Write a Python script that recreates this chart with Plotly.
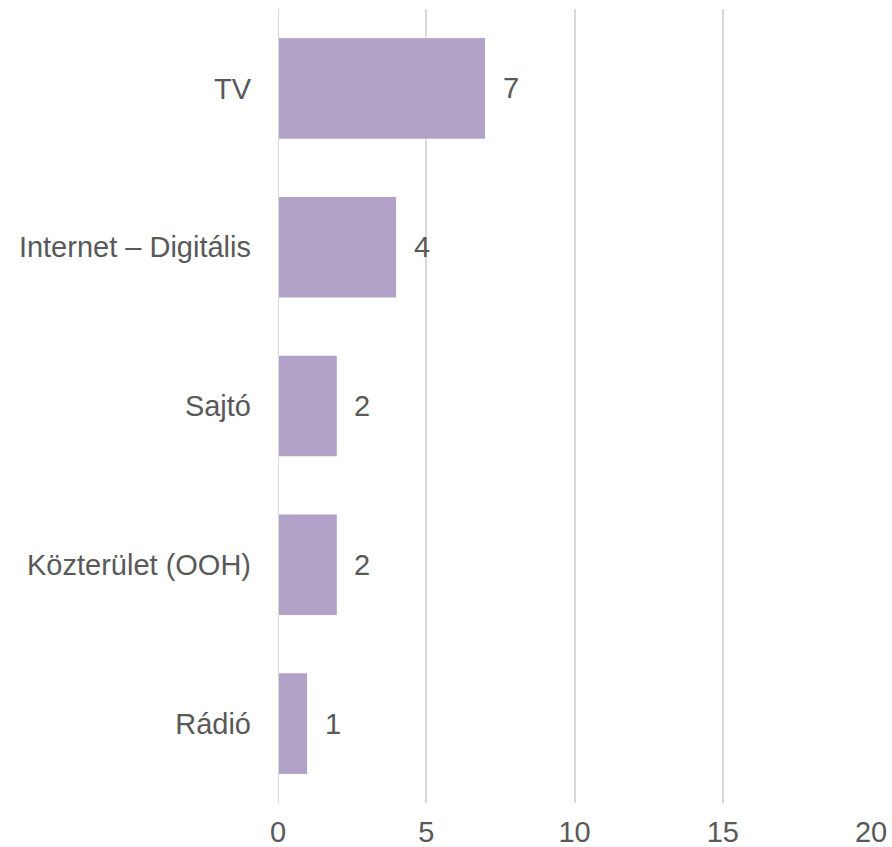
import plotly.graph_objects as go

categories = ["TV", "Internet – Digitális", "Sajtó", "Közterület (OOH)", "Rádió"]
values = [7, 4, 2, 2, 1]
x_ticks = [0, 5, 10, 15, 20]

FONT = "Liberation Sans, Arial, sans-serif"
SIZE = 29

fig = go.Figure()
fig.add_trace(go.Bar(
    y=categories, x=values, orientation="h",
    marker=dict(color="#b3a2c7", line=dict(color="white", width=1)),
    width=0.64, hoverinfo="skip",
))

for c, v in zip(categories, values):
    fig.add_annotation(x=v, y=c, text=str(v), showarrow=False, xanchor="left",
                       xshift=15, font=dict(size=SIZE, color="#595959", family=FONT))

fig.add_shape(type="line", xref="x", yref="paper", x0=0, x1=0, y0=0, y1=1,
              line=dict(color="#d9d9d9", width=2), layer="above")

fig.update_layout(
    width=892, height=847,
    margin=dict(l=278, r=21, t=9, b=44),
    paper_bgcolor="white", plot_bgcolor="white",
    showlegend=False,
    font=dict(family=FONT, size=SIZE, color="#595959"),
    xaxis=dict(range=[0, 20], tickvals=x_ticks, showgrid=True, gridcolor="#d9d9d9",
               gridwidth=2, zeroline=False, showline=False, ticks="",
               ticklabelstandoff=9, fixedrange=True, automargin=False,
               tickfont=dict(size=SIZE)),
    yaxis=dict(autorange="reversed", showgrid=False, zeroline=False, showline=False,
               ticks="", ticklabelstandoff=26, fixedrange=True, automargin=False,
               tickfont=dict(size=SIZE)),
)

fig.write_html("out.html")
